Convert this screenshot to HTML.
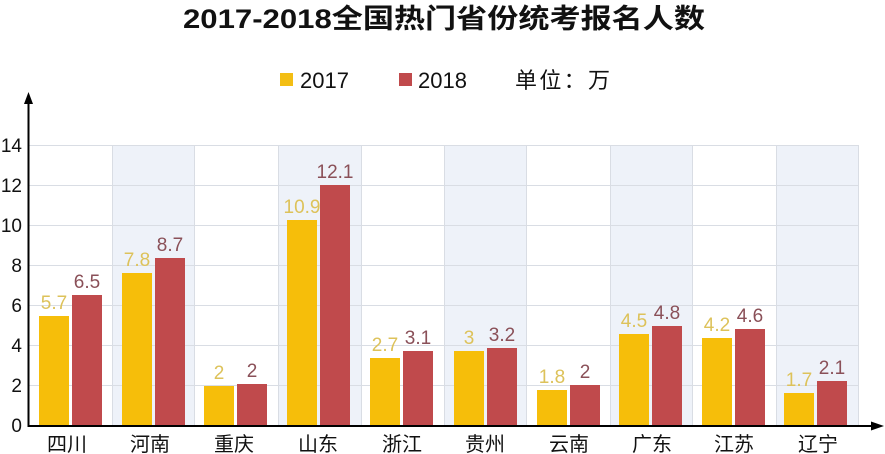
<!DOCTYPE html>
<html><head><meta charset="utf-8"><style>
html,body{margin:0;padding:0;background:#fff;}
svg{display:block;}
text{font-family:"Liberation Sans","Noto Sans CJK SC",sans-serif;}
</style></head><body>
<svg width="885" height="454" viewBox="0 0 885 454" xmlns="http://www.w3.org/2000/svg">
<rect width="885" height="454" fill="#fff"/>
<text x="183" y="28" font-size="27" font-weight="bold" fill="#111" textLength="522" lengthAdjust="spacingAndGlyphs">2017-2018全国热门省份统考报名人数</text>
<rect x="280" y="73" width="13" height="13" fill="#f3be14"/>
<text x="300" y="88" font-size="22" fill="#111">2017</text>
<rect x="399" y="73" width="13" height="13" fill="#c04a4c"/>
<text x="418" y="88" font-size="22" fill="#111">2018</text>
<text x="515" y="88" font-size="22" fill="#111" textLength="95">单位：万</text>
<g fill="#eef2f9">
<rect x="112" y="145" width="83" height="281"/>
<rect x="279" y="145" width="83" height="281"/>
<rect x="444" y="145" width="83" height="281"/>
<rect x="610" y="145" width="83" height="281"/>
<rect x="776" y="145" width="82" height="281"/>
</g>
<g stroke="#d9dde4" stroke-width="1">
<line x1="29" y1="145.5" x2="858" y2="145.5"/>
<line x1="29" y1="185.5" x2="858" y2="185.5"/>
<line x1="29" y1="225.5" x2="858" y2="225.5"/>
<line x1="29" y1="265.5" x2="858" y2="265.5"/>
<line x1="29" y1="305.5" x2="858" y2="305.5"/>
<line x1="29" y1="345.5" x2="858" y2="345.5"/>
<line x1="29" y1="385.5" x2="858" y2="385.5"/>
<line x1="112.5" y1="145" x2="112.5" y2="426"/>
<line x1="194.5" y1="145" x2="194.5" y2="426"/>
<line x1="278.5" y1="145" x2="278.5" y2="426"/>
<line x1="361.5" y1="145" x2="361.5" y2="426"/>
<line x1="444.5" y1="145" x2="444.5" y2="426"/>
<line x1="526.5" y1="145" x2="526.5" y2="426"/>
<line x1="610.5" y1="145" x2="610.5" y2="426"/>
<line x1="692.5" y1="145" x2="692.5" y2="426"/>
<line x1="776.5" y1="145" x2="776.5" y2="426"/>
<line x1="858.5" y1="145" x2="858.5" y2="426"/>
</g>
<g fill="#f6be0a">
<rect x="39" y="316" width="30" height="110"/>
<rect x="122" y="273" width="30" height="153"/>
<rect x="204" y="386" width="30" height="40"/>
<rect x="287" y="220" width="30" height="206"/>
<rect x="370" y="358" width="30" height="68"/>
<rect x="454" y="351" width="30" height="75"/>
<rect x="537" y="390" width="30" height="36"/>
<rect x="619" y="334" width="30" height="92"/>
<rect x="702" y="338" width="30" height="88"/>
<rect x="784" y="393" width="30" height="33"/>
</g>
<g fill="#c04a4c">
<rect x="72" y="295" width="30" height="131"/>
<rect x="155" y="258" width="30" height="168"/>
<rect x="237" y="384" width="30" height="42"/>
<rect x="320" y="185" width="30" height="241"/>
<rect x="403" y="351" width="30" height="75"/>
<rect x="487" y="348" width="30" height="78"/>
<rect x="570" y="385" width="30" height="41"/>
<rect x="652" y="326" width="30" height="100"/>
<rect x="735" y="329" width="30" height="97"/>
<rect x="817" y="381" width="30" height="45"/>
</g>
<g font-size="19" text-anchor="middle" fill="#ddc25a">
<text x="54" y="309">5.7</text>
<text x="137" y="266">7.8</text>
<text x="219" y="379">2</text>
<text x="302" y="213">10.9</text>
<text x="385" y="351">2.7</text>
<text x="469" y="344">3</text>
<text x="552" y="383">1.8</text>
<text x="634" y="327">4.5</text>
<text x="717" y="331">4.2</text>
<text x="799" y="386">1.7</text>
</g>
<g font-size="19" text-anchor="middle" fill="#8a5058">
<text x="87" y="288">6.5</text>
<text x="170" y="251">8.7</text>
<text x="252" y="377">2</text>
<text x="335" y="178">12.1</text>
<text x="418" y="344">3.1</text>
<text x="502" y="341">3.2</text>
<text x="585" y="378">2</text>
<text x="667" y="319">4.8</text>
<text x="750" y="322">4.6</text>
<text x="832" y="374">2.1</text>
</g>
<line x1="28.5" y1="100" x2="28.5" y2="427" stroke="#000" stroke-width="2"/>
<polygon points="28.5,92 24,104 33,104" fill="#000"/>
<line x1="28" y1="426" x2="872" y2="426" stroke="#000" stroke-width="2"/>
<polygon points="884,426 871,421.5 871,430.5" fill="#000"/>
<g font-size="19" text-anchor="end" fill="#111">
<text x="22" y="152">14</text>
<text x="22" y="192">12</text>
<text x="22" y="232">10</text>
<text x="22" y="272">8</text>
<text x="22" y="312">6</text>
<text x="22" y="352">4</text>
<text x="22" y="392">2</text>
<text x="22" y="432">0</text>
</g>
<g font-size="20" text-anchor="middle" fill="#111">
<text x="67" y="451">四川</text>
<text x="150" y="451">河南</text>
<text x="234" y="451">重庆</text>
<text x="318" y="451">山东</text>
<text x="402" y="451">浙江</text>
<text x="485" y="451">贵州</text>
<text x="569" y="451">云南</text>
<text x="652" y="451">广东</text>
<text x="734" y="451">江苏</text>
<text x="818" y="451">辽宁</text>
</g>
</svg>
</body></html>
